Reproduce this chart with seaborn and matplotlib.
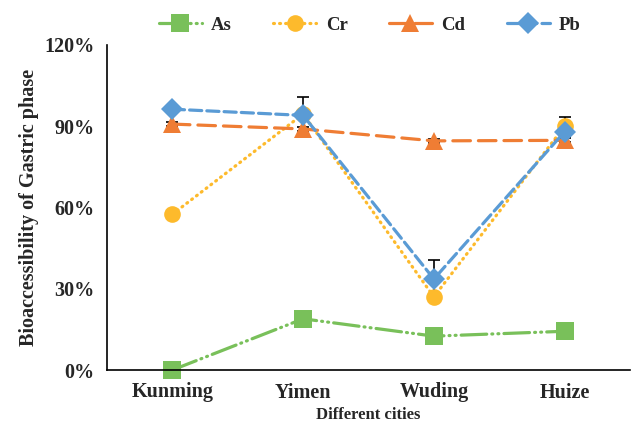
import pandas as pd
import matplotlib.pyplot as plt
import seaborn as sns
from matplotlib.ticker import PercentFormatter, FixedLocator

# Data (fractions)
cities = ["Kunming", "Yimen", "Wuding", "Huize"]
metals = ["As", "Cr", "Cd", "Pb"]
as_vals = [0.000, 0.189, 0.125, 0.143]
cr_vals = [0.575, 0.945, 0.270, 0.900]
cd_vals = [0.908, 0.890, 0.846, 0.848]
pb_vals = [0.963, 0.940, 0.336, 0.880]
cr_err = [0.0, 0.0, 0.0, 0.035]
cd_err = [0.008, 0.008, 0.008, 0.008]
pb_err = [0.015, 0.068, 0.072, 0.020]

colors = {"As": "#79C05A", "Cr": "#FDBA2C", "Cd": "#EF7D34", "Pb": "#5A9BD5"}
markers = {"As": "s", "Cr": "o", "Cd": "^", "Pb": "D"}
dashes = {
    "As": (8, 1.6, 0.3, 1.6, 0.3, 1.6),
    "Cr": (0.3, 1.6),
    "Cd": (5.5, 2.5),
    "Pb": (3.8, 1.6),
}
msizes = {"As": 13, "Cr": 12, "Cd": 13, "Pb": 11}

# long-form table for seaborn
rows = []
for m, vals in zip(metals, [as_vals, cr_vals, cd_vals, pb_vals]):
    for c, v in zip(cities, vals):
        rows.append({"city": c, "metal": m, "value": v})
df = pd.DataFrame(rows)

sns.set_style("white")
plt.rcParams["font.family"] = ["Liberation Serif", "DejaVu Serif"]
plt.rcParams["font.weight"] = "bold"
plt.rcParams["lines.dash_capstyle"] = "round"

fig, ax = plt.subplots(figsize=(6.32, 4.26), dpi=100)
fig.subplots_adjust(left=107 / 632, right=630 / 632, top=1 - 45 / 426, bottom=1 - 370 / 426)

# error bars first so markers sit on top
x_idx = list(range(len(cities)))
for vals, err in [(cr_vals, cr_err), (cd_vals, cd_err), (pb_vals, pb_err)]:
    ax.errorbar(x_idx, vals, yerr=err, fmt="none", ecolor="black",
                elinewidth=1.2, capsize=4, capthick=1.2, zorder=1)

for m in metals:
    sub = df[df["metal"] == m]
    sns.lineplot(data=sub, x="city", y="value", ax=ax, color=colors[m],
                 marker=markers[m], markersize=msizes[m], markeredgewidth=0,
                 linewidth=2.3, dashes=dashes[m], sort=False, label=m,
                 zorder=2, clip_on=False)

ax.set_xlim(-0.5, 3.5)
ax.set_ylim(0, 1.2)
ax.set_yticks([0, 0.3, 0.6, 0.9, 1.2])
ax.yaxis.set_major_formatter(PercentFormatter(1.0, decimals=0))
ax.set_xticks(x_idx)
ax.set_xticklabels(cities)
ax.xaxis.set_minor_locator(FixedLocator([0.5, 1.5, 2.5, 3.5]))
ax.tick_params(axis="x", which="major", length=0, pad=9, labelsize=14.5)
ax.tick_params(axis="x", which="minor", length=5, width=1.2, direction="out")
ax.tick_params(axis="y", length=5, width=1.2, direction="out", labelsize=14.5, pad=4)
for t in ax.get_xticklabels() + ax.get_yticklabels():
    t.set_fontweight("bold")

for side in ["top", "right"]:
    ax.spines[side].set_visible(False)
for side in ["left", "bottom"]:
    ax.spines[side].set_color("black")
    ax.spines[side].set_linewidth(1.2)

ax.set_xlabel("Different cities", fontsize=12, fontweight="bold", labelpad=3)
ax.set_ylabel("Bioaccessibility of Gastric phase", fontsize=14.5, fontweight="bold", labelpad=4)

handles, labels = ax.get_legend_handles_labels()
fig.legend(handles, labels, loc="center", bbox_to_anchor=(0.585, 0.941), ncol=4,
           frameon=False, handlelength=2.3, columnspacing=2.2, handletextpad=0.5,
           prop={"size": 13.5, "weight": "bold"})
if ax.get_legend() is not None:
    ax.get_legend().remove()

fig.savefig("out.png", dpi=100)
